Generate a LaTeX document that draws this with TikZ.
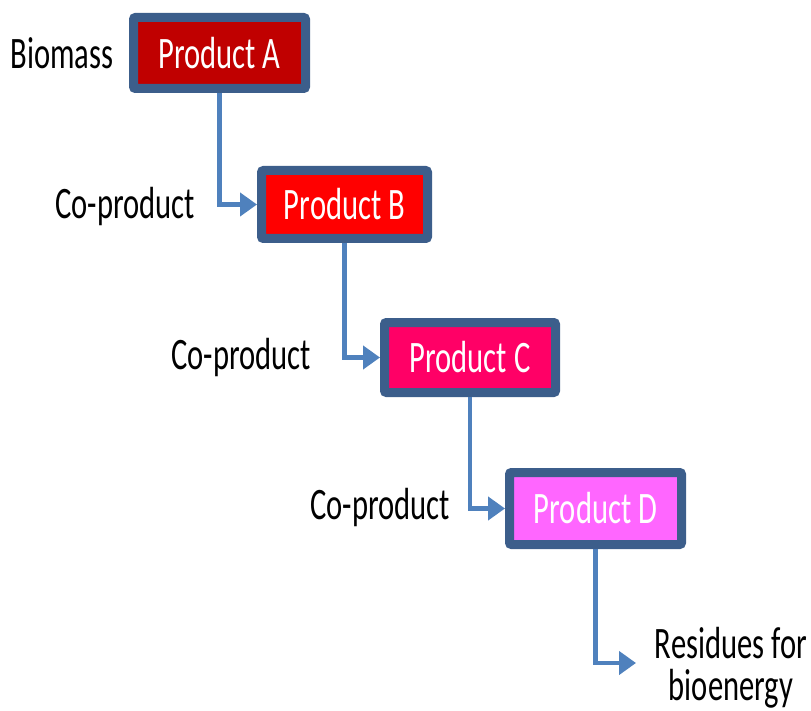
\documentclass[tikz,border=0pt]{standalone}
\usepackage{fontspec}
\setmainfont{Carlito}
\usetikzlibrary{arrows.meta}
\definecolor{bordercol}{HTML}{3C5E8B}
\definecolor{linecol}{HTML}{4F81BD}
\definecolor{colA}{HTML}{C00000}
\definecolor{colB}{HTML}{FF0000}
\definecolor{colC}{HTML}{FF0066}
\definecolor{colD}{HTML}{FF66FF}
\newcommand{\nt}[1]{\scalebox{0.68}[1]{#1}}
\tikzset{
  prodbox/.style={draw=bordercol, line width=9pt, rounded corners=2pt,
    minimum width=#1, inner sep=0pt, text=white,
    font=\fontsize{45}{50}\selectfont},
  lbl/.style={text=black, inner sep=0pt, font=\fontsize{45}{42}\selectfont},
  conn/.style={draw=linecol, line width=4.5pt, -{Triangle[length=17pt,width=23pt]}}
}
\begin{document}
\begin{tikzpicture}[x=1pt,y=-1pt]
\useasboundingbox (0,0) rectangle (811,711);
\node[prodbox=172pt, fill=colA, minimum height=71pt] (A) at (219.5,53) {\nt{Product A}};
\node[prodbox=166pt, fill=colB, minimum height=68pt] (B) at (344.5,204.5) {\nt{Product B}};
\node[prodbox=171pt, fill=colC, minimum height=70pt] (C) at (470,357.5) {\nt{Product C}};
\node[prodbox=172pt, fill=colD, minimum height=72pt] (D) at (595.5,508.5) {\nt{Product D}};
\node[lbl] (bio) at (62,53) {\nt{Biomass}};
\node[lbl] (cp1) at (125,207) {\nt{Co-product}};
\node[lbl] (cp2) at (241,358) {\nt{Co-product}};
\node[lbl] (cp3) at (380,508) {\nt{Co-product}};
\node[lbl, align=center] (res) at (731,668) {\nt{Residues for}\\\nt{bioenergy}};
\coordinate (end) at (636,663);
\draw[conn] (A.south) |- (B.west);
\draw[conn] (B.south) |- (C.west);
\draw[conn] (C.south) |- (D.west);
\draw[conn] (D.south) |- (end);
\end{tikzpicture}
\end{document}
